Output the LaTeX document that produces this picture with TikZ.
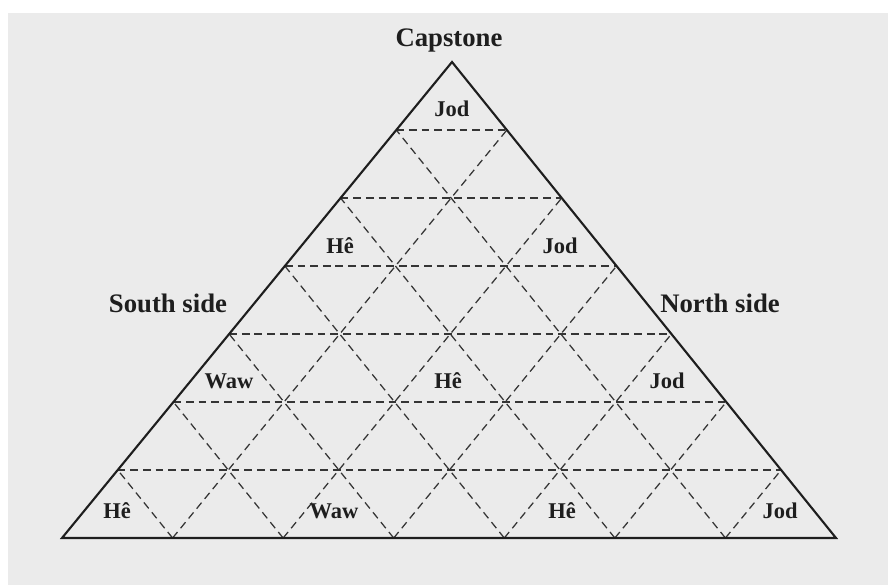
\documentclass[tikz,border=0pt]{standalone}
\usepackage{fontspec}
\setmainfont{Liberation Serif}
\usetikzlibrary{calc}
\definecolor{paper}{HTML}{EBEBEB}
\definecolor{ink}{HTML}{1E1E1E}
\tikzset{
  gridline/.style={dashed,dash pattern=on 5.5pt off 3.5pt,line width=0.9pt,ink!90},
  sideline/.style={line width=1.5pt,ink,line join=miter},
  sidelabel/.style={font=\fontsize{19}{23}\selectfont\bfseries,ink},
  letter/.style={font=\fontsize{16}{18}\selectfont\bfseries,ink}
}
\begin{document}
\begin{tikzpicture}[x=0.025cm,y=-0.025cm]
                \useasboundingbox (0,0) rectangle (888,585);
                \fill[white] (0,0) rectangle (888,585);
                \fill[paper] (8,13) rectangle (888,585);
                \coordinate (apex) at (452,62);
                \coordinate (south) at (62,538);
                \coordinate (north) at (836,538);
                %% dashed grid, seven courses
                \foreach \k in {1,...,6} {
                    \draw[gridline] ($(apex)!\k/7!(south)$) -- ($(apex)!\k/7!(north)$);
                    \draw[gridline] ($(south)!\k/7!(north)$) -- ($(south)!\k/7!(apex)$);
                    \draw[gridline] ($(north)!\k/7!(south)$) -- ($(north)!\k/7!(apex)$);
                }
                %% outline
                \draw[sideline] (apex) -- (south) -- (north) -- cycle;
                %% side names
                \node[sidelabel] (capstone) at (449,40) {Capstone};
                \node[sidelabel] (southside) at (168,303) {South side};
                \node[sidelabel] (northside) at (720,303) {North side};
                %% letters
                \node[letter] (jod1) at (452,109) {Jod};
                \node[letter] (he1) at (340,246) {Hê};
                \node[letter] (jod2) at (560,246) {Jod};
                \node[letter] (waw1) at (229,381) {Waw};
                \node[letter] (he2) at (448,381) {Hê};
                \node[letter] (jod3) at (667,381) {Jod};
                \node[letter] (he3) at (117,511) {Hê};
                \node[letter] (waw2) at (334,511) {Waw};
                \node[letter] (he4) at (562,511) {Hê};
                \node[letter] (jod4) at (780,511) {Jod};
\end{tikzpicture}
\end{document}
